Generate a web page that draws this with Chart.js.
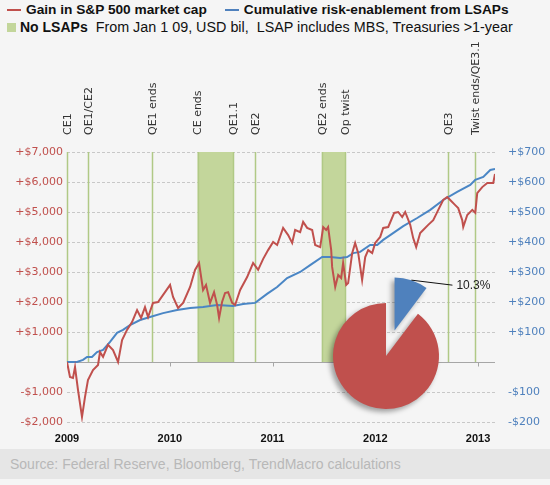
<!DOCTYPE html>
<html>
<head>
<meta charset="utf-8">
<script src="https://cdn.jsdelivr.net/npm/chart.js@4.4.0/dist/chart.umd.min.js"></script>
<style>
body { margin: 0; background: #f5f5f5; font-family: 'Liberation Sans', Arial, sans-serif; }
#wrap { position: relative; width: 550px; height: 485px; overflow: hidden; }
.leg { position: absolute; left: 7px; white-space: nowrap; color: #111; }
#legend1 { top: 2px; font-weight: bold; font-size: 13.7px; }
#legend2 { top: 19px; font-size: 14.35px; }
#legend2 b { font-size: 14px; }
.dash { display: inline-block; width: 14px; height: 2px; vertical-align: middle; margin-right: 5px; }
.sq { display: inline-block; width: 9px; height: 9px; background: #c3d69b; margin-right: 4px; }
#footer { position: absolute; left: 0; top: 449px; width: 550px; height: 30px; background: #e6e6e6;
  color: #b8b8b8; font-size: 14px; line-height: 30px; padding-left: 10px; box-sizing: border-box; }
canvas { position: absolute; }
#main { left: 0; top: 0; }
#pie { left: 266px; top: 246px; }
</style>
</head>
<body>
<div id="wrap">
  <div id="footer">Source: Federal Reserve, Bloomberg, TrendMacro calculations</div>
  <div id="legend1" class="leg"><span class="dash" style="background:#c0504d"></span>Gain in S&amp;P 500 market cap<span class="dash" style="background:#4f81bd;margin-left:18px"></span>Cumulative risk-enablement from LSAPs</div>
  <div id="legend2" class="leg"><span class="sq"></span><b>No LSAPs</b>&nbsp; From Jan 1 09, USD bil,&nbsp; LSAP includes MBS, Treasuries &gt;1-year</div>
  <canvas id="main" width="550" height="485"></canvas>
  <canvas id="pie" width="240" height="220"></canvas>
</div>
<script>
// S&P 500 gain, USD bil (left axis), dates as decimal years
const gainX = [2009.000, 2009.029, 2009.058, 2009.078, 2009.107, 2009.146, 2009.175, 2009.204, 2009.253, 2009.302,
  2009.321, 2009.351, 2009.399, 2009.448, 2009.497, 2009.536, 2009.584, 2009.633, 2009.682, 2009.721,
  2009.759, 2009.789, 2009.837, 2009.886, 2009.954, 2010.003, 2010.032, 2010.081, 2010.130, 2010.198,
  2010.246, 2010.285, 2010.324, 2010.353, 2010.392, 2010.431, 2010.461, 2010.480, 2010.509, 2010.538,
  2010.568, 2010.607, 2010.636, 2010.685, 2010.753, 2010.811, 2010.860, 2010.908, 2010.957, 2011.006,
  2011.045, 2011.103, 2011.152, 2011.191, 2011.220, 2011.269, 2011.298, 2011.337, 2011.386, 2011.415,
  2011.464, 2011.493, 2011.522, 2011.541, 2011.571, 2011.580, 2011.610, 2011.639, 2011.668, 2011.687,
  2011.717, 2011.736, 2011.775, 2011.804, 2011.834, 2011.872, 2011.902, 2011.931, 2011.970, 2011.999,
  2012.048, 2012.077, 2012.126, 2012.184, 2012.223, 2012.262, 2012.291, 2012.340, 2012.369, 2012.398,
  2012.437, 2012.466, 2012.515, 2012.564, 2012.613, 2012.661, 2012.700, 2012.729, 2012.778, 2012.807,
  2012.846, 2012.856, 2012.895, 2012.944, 2012.973, 2012.992, 2013.041, 2013.090, 2013.148, 2013.165];
const gainVals = [0, -500, -530, -170, -930, -1830, -1170, -600, -270, -100,
  330, 170, 570, 400, 0, 730, 1070, 1330, 1730, 1470,
  1830, 1500, 1970, 2000, 2330, 2570, 2170, 1800, 1970, 2500,
  3070, 3300, 2400, 2570, 1970, 2330, 1900, 1470, 2000, 2300,
  2330, 1970, 1900, 2400, 2830, 3300, 3070, 3430, 3730, 4000,
  3900, 4470, 4230, 3970, 4400, 4330, 4670, 4470, 4400, 3900,
  3830, 4500, 4400, 4500, 3730, 3170, 2500, 2900, 2800, 3300,
  2570, 2630, 3630, 3970, 3630, 2730, 3500, 3730, 3630, 3970,
  4170, 4470, 4500, 4970, 5000, 4830, 5000, 4570, 4130, 3830,
  4300, 4400, 4570, 4730, 5070, 5400, 5500, 5400, 5230, 5130,
  4730, 4500, 4900, 5070, 4970, 5630, 5830, 5970, 5970, 6270];

// cumulative LSAP risk-enablement, USD bil (right axis)
const lsapX = [2009.000, 2009.097, 2009.156, 2009.195, 2009.243, 2009.292, 2009.351, 2009.419, 2009.487, 2009.545,
  2009.613, 2009.711, 2009.808, 2009.935, 2010.071, 2010.198, 2010.324, 2010.461, 2010.616, 2010.714,
  2010.831, 2010.947, 2011.045, 2011.142, 2011.269, 2011.366, 2011.483, 2011.561, 2011.658, 2011.726,
  2011.785, 2011.853, 2011.950, 2012.019, 2012.077, 2012.145, 2012.272, 2012.408, 2012.535, 2012.661,
  2012.797, 2012.924, 2012.973, 2013.051, 2013.119, 2013.165];
const lsapVals = [0, 0, 7, 17, 17, 33, 40, 67, 97, 107,
  123, 140, 150, 163, 173, 180, 183, 190, 187, 193,
  197, 227, 250, 280, 300, 323, 350, 350, 347, 350,
  363, 367, 390, 390, 407, 423, 453, 480, 507, 540,
  567, 590, 607, 617, 640, 643];

const eventDates = [2009.0, 2009.205, 2009.83, 2010.27, 2010.617, 2010.83, 2011.48, 2011.71, 2012.71, 2012.97];
const eventLabels = ['CE1', 'QE1/CE2', 'QE1 ends', 'CE ends', 'QE1.1', 'QE2', 'QE2 ends', 'Op twist', 'QE3', 'Twist ends/QE3.1'];
const noLsapStart = [2010.27, 2011.48];
const noLsapEnd = [2010.617, 2011.71];

const yearTicks = [2009, 2010, 2011, 2012, 2013];
const pieLabels = ['S&P gain from LSAPs', 'Other'];
const pieValues = [10.3, 89.7];

const money = v => v === 0 ? '' : (v > 0 ? '+$' : '-$') + Math.abs(v).toLocaleString('en-US');

const eventPlugin = {
    id: 'events',
    beforeDatasetsDraw(chart) {
        const { ctx, chartArea, scales: { x, y } } = chart;
        const zeroY = Math.round(y.getPixelForValue(0)) + 0.5;
        ctx.save();
        ctx.fillStyle = '#c3d69b';
        noLsapStart.forEach((s, i) => {
            const x0 = x.getPixelForValue(s), x1 = x.getPixelForValue(noLsapEnd[i]);
            ctx.fillRect(x0, chartArea.top, x1 - x0, zeroY - chartArea.top);
        });
        ctx.strokeStyle = '#b0c986';
        ctx.lineWidth = 1.5;
        eventDates.forEach(d => {
            const px = Math.round(x.getPixelForValue(d)) + 0.5;
            ctx.beginPath(); ctx.moveTo(px, chartArea.top); ctx.lineTo(px, zeroY); ctx.stroke();
        });
        // zero line + year ticks
        ctx.strokeStyle = '#a6a6a6';
        ctx.lineWidth = 1;
        ctx.beginPath(); ctx.moveTo(chartArea.left, zeroY); ctx.lineTo(chartArea.right, zeroY); ctx.stroke();
        yearTicks.slice(1).forEach(t => {
            const px = Math.round(x.getPixelForValue(t)) + 0.5;
            ctx.beginPath(); ctx.moveTo(px, zeroY); ctx.lineTo(px, zeroY + 4); ctx.stroke();
        });
        // rotated event labels
        ctx.fillStyle = '#333';
        ctx.font = '11px "DejaVu Sans"';
        ctx.textAlign = 'left';
        ctx.textBaseline = 'middle';
        eventDates.forEach((d, i) => {
            ctx.save();
            ctx.translate(x.getPixelForValue(d) + 1, chartArea.top - 17);
            ctx.rotate(-Math.PI / 2);
            ctx.fillText(eventLabels[i], 0, 0);
            ctx.restore();
        });
        ctx.restore();
    }
};

new Chart(document.getElementById('main'), {
    type: 'line',
    data: {
        datasets: [
            {
                label: 'Gain in S&P 500 market cap',
                data: gainX.map((d, i) => ({ x: d, y: gainVals[i] })),
                borderColor: '#c0504d',
                borderWidth: 2,
                pointRadius: 0,
                tension: 0,
                yAxisID: 'y'
            },
            {
                label: 'Cumulative risk-enablement from LSAPs',
                data: lsapX.map((d, i) => ({ x: d, y: lsapVals[i] })),
                borderColor: '#4a86c5',
                borderWidth: 2,
                pointRadius: 0,
                tension: 0,
                yAxisID: 'y2'
            }
        ]
    },
    options: {
        responsive: false,
        animation: false,
        events: [],
        layout: { padding: { top: 152, left: 0, right: 0, bottom: 0 } },
        plugins: { legend: { display: false }, tooltip: { enabled: false } },
        scales: {
            x: {
                type: 'linear',
                min: 2009,
                max: 2013.165,
                afterBuildTicks: s => { s.ticks = yearTicks.map(v => ({ value: v })); },
                afterFit: s => { s.height = 63; },
                grid: { display: false, drawTicks: false },
                border: { display: false },
                ticks: {
                    padding: 10,
                    color: '#111',
                    font: { family: 'Liberation Sans', size: 11, weight: 'bold' },
                    callback: v => String(v),
                    maxRotation: 0
                }
            },
            y: {
                position: 'left',
                min: -2000,
                max: 7000,
                afterFit: s => { s.width = 67; },
                grid: {
                    color: c => c.tick.value === 0 ? 'transparent' : '#c8c8c8',
                    drawTicks: false
                },
                border: { display: false, dash: [3, 2] },
                ticks: {
                    stepSize: 1000,
                    padding: 4,
                    color: '#c0504d',
                    font: { family: 'DejaVu Sans', size: 11 },
                    callback: money
                }
            },
            y2: {
                position: 'right',
                min: -200,
                max: 700,
                afterFit: s => { s.width = 55; },
                grid: { display: false, drawTicks: false },
                border: { display: false },
                ticks: {
                    stepSize: 100,
                    padding: 13,
                    color: '#4f81bd',
                    font: { family: 'DejaVu Sans', size: 11 },
                    callback: money
                }
            }
        }
    },
    plugins: [eventPlugin]
});

// pull the first slice out of the pie by a fixed distance, without
// the radius growth that Chart.js's own offset option adds
const EXPLODE = 27;
const pieDecor = {
    id: 'pieDecor',
    afterDatasetsUpdate(chart) {
        const arc = chart.getDatasetMeta(0).data[0];
        const baseDraw = Chart.ArcElement.prototype.draw;
        arc.draw = function (ctx) {
            const mid = (this.startAngle + this.endAngle) / 2;
            ctx.save();
            ctx.translate(Math.cos(mid) * EXPLODE, Math.sin(mid) * EXPLODE);
            baseDraw.call(this, ctx);
            ctx.restore();
        };
    },
    beforeDatasetsDraw(chart) {
        const ctx = chart.ctx;
        ctx.save();
        ctx.shadowColor = 'rgba(0,0,0,0.35)';
        ctx.shadowBlur = 5;
        ctx.shadowOffsetX = -3;
        ctx.shadowOffsetY = 3;
    },
    afterDatasetsDraw(chart) {
        const ctx = chart.ctx;
        ctx.restore();
        const arc = chart.getDatasetMeta(0).data[0];
        const mid = (arc.startAngle + arc.endAngle) / 2;
        const px = arc.x + Math.cos(mid) * (arc.outerRadius + EXPLODE);
        const py = arc.y + Math.sin(mid) * (arc.outerRadius + EXPLODE);
        ctx.save();
        ctx.strokeStyle = '#111';
        ctx.lineWidth = 1;
        ctx.beginPath(); ctx.moveTo(px, py); ctx.lineTo(px + 41, py + 5); ctx.stroke();
        ctx.fillStyle = '#222';
        ctx.font = '12px "Liberation Sans"';
        ctx.textAlign = 'left';
        ctx.textBaseline = 'middle';
        ctx.fillText(pieValues[0].toFixed(1) + '%', px + 45, py + 6);
        ctx.restore();
    }
};

new Chart(document.getElementById('pie'), {
    type: 'pie',
    data: {
        labels: pieLabels,
        datasets: [{
            data: pieValues,
            backgroundColor: ['#4f81bd', '#c0504d'],
            borderWidth: 0
        }]
    },
    options: {
        responsive: false,
        animation: false,
        events: [],
        radius: 53,
        layout: { padding: 0 },
        plugins: { legend: { display: false }, tooltip: { enabled: false } }
    },
    plugins: [pieDecor]
});
</script>
</body>
</html>
